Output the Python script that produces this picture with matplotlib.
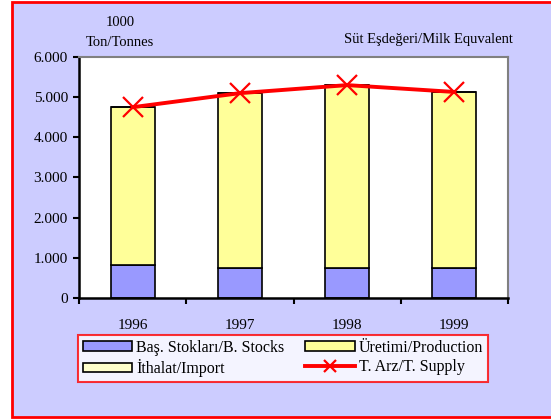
import matplotlib
matplotlib.use('Agg')
import matplotlib.pyplot as plt
from matplotlib.patches import Rectangle
import numpy as np

years = ['1996', '1997', '1998', '1999']
stocks = [820, 750, 750, 750]
production = [3930, 4350, 4550, 4380]
imports = [0, 0, 0, 0]
supply = [4750, 5100, 5300, 5130]
y_ticks = [0, 1000, 2000, 3000, 4000, 5000, 6000]
y_labels = ['0', '1.000', '2.000', '3.000', '4.000', '5.000', '6.000']

plt.rcParams['font.family'] = ['Liberation Serif', 'DejaVu Serif']

fig = plt.figure(figsize=(5.51, 4.19), dpi=100, facecolor='white')
# outer lilac frame with red border
fig.patches.append(Rectangle((12/551, 2/419), 545/551, 415/419, transform=fig.transFigure,
                             facecolor='#CCCCFF', edgecolor='red', linewidth=2, zorder=-5))

ax = fig.add_axes([79/551, 1-298/419, 429/551, 241/419])
ax.set_zorder(1)
ax.set_facecolor('white')

x = np.arange(len(years))
w = 0.41
prod_bottom = np.array(stocks)
imp_bottom = prod_bottom + np.array(production)
b1 = ax.bar(x, stocks, w, color='#9999FF', edgecolor='black', linewidth=1.2, zorder=2)
b2 = ax.bar(x, production, w, bottom=prod_bottom, color='#FFFF99', edgecolor='black', linewidth=1.2, zorder=2)
b3 = ax.bar(x, imports, w, bottom=imp_bottom, color='#FFFFCC', edgecolor='black', linewidth=1.2, zorder=2)
l1, = ax.plot(x, supply, color='red', linewidth=2.8, marker='x', markersize=14, markeredgewidth=1.6, zorder=3)

ax.set_xlim(-0.5, 3.5)
ax.set_ylim(0, 6000)
ax.set_yticks(y_ticks)
ax.set_yticklabels(y_labels, fontsize=11)
ax.set_xticks(x)
ax.set_xticklabels(years, fontsize=11)
ax.tick_params(axis='x', length=0, pad=15)
ax.set_xticks(np.arange(-0.5, 4, 1), minor=True)
ax.tick_params(axis='x', which='minor', length=4, width=1.5, direction='out')
ax.tick_params(axis='y', length=4, width=1.5, direction='out', pad=4)
for s in ['left', 'bottom']:
    ax.spines[s].set_linewidth(1.8)
    ax.spines[s].set_color('black')
for s in ['top', 'right']:
    ax.spines[s].set_linewidth(1.5)
    ax.spines[s].set_color('#808080')

fig.text(120/551, 1-22/419, '1000', ha='center', va='center', fontsize=10.5)
fig.text(120/551, 1-43/419, 'Ton/Tonnes', ha='center', va='center', fontsize=10.5)
fig.text(513/551, 1-40/419, 'Süt Eşdeğeri/Milk Equvalent', ha='right', va='center', fontsize=10.5)

handles = [b1, b3, b2, l1]
labels = ['Baş. Stokları/B. Stocks', 'İthalat/Import', 'Üretimi/Production', 'T. Arz/T. Supply']
leg = fig.legend(handles, labels, ncol=2,
                 loc='upper left', bbox_to_anchor=(78/551, 1-335/419),
                 frameon=True, fancybox=False, fontsize=11.5, handlelength=3.1,
                 handleheight=0.55, handletextpad=0.25, columnspacing=1.3,
                 borderpad=0.3, labelspacing=0.2, borderaxespad=0, markerscale=0.6)
leg.get_frame().set_edgecolor('red')
leg.get_frame().set_linewidth(1.5)

fig.savefig('out.png', dpi=100, facecolor=fig.get_facecolor())
